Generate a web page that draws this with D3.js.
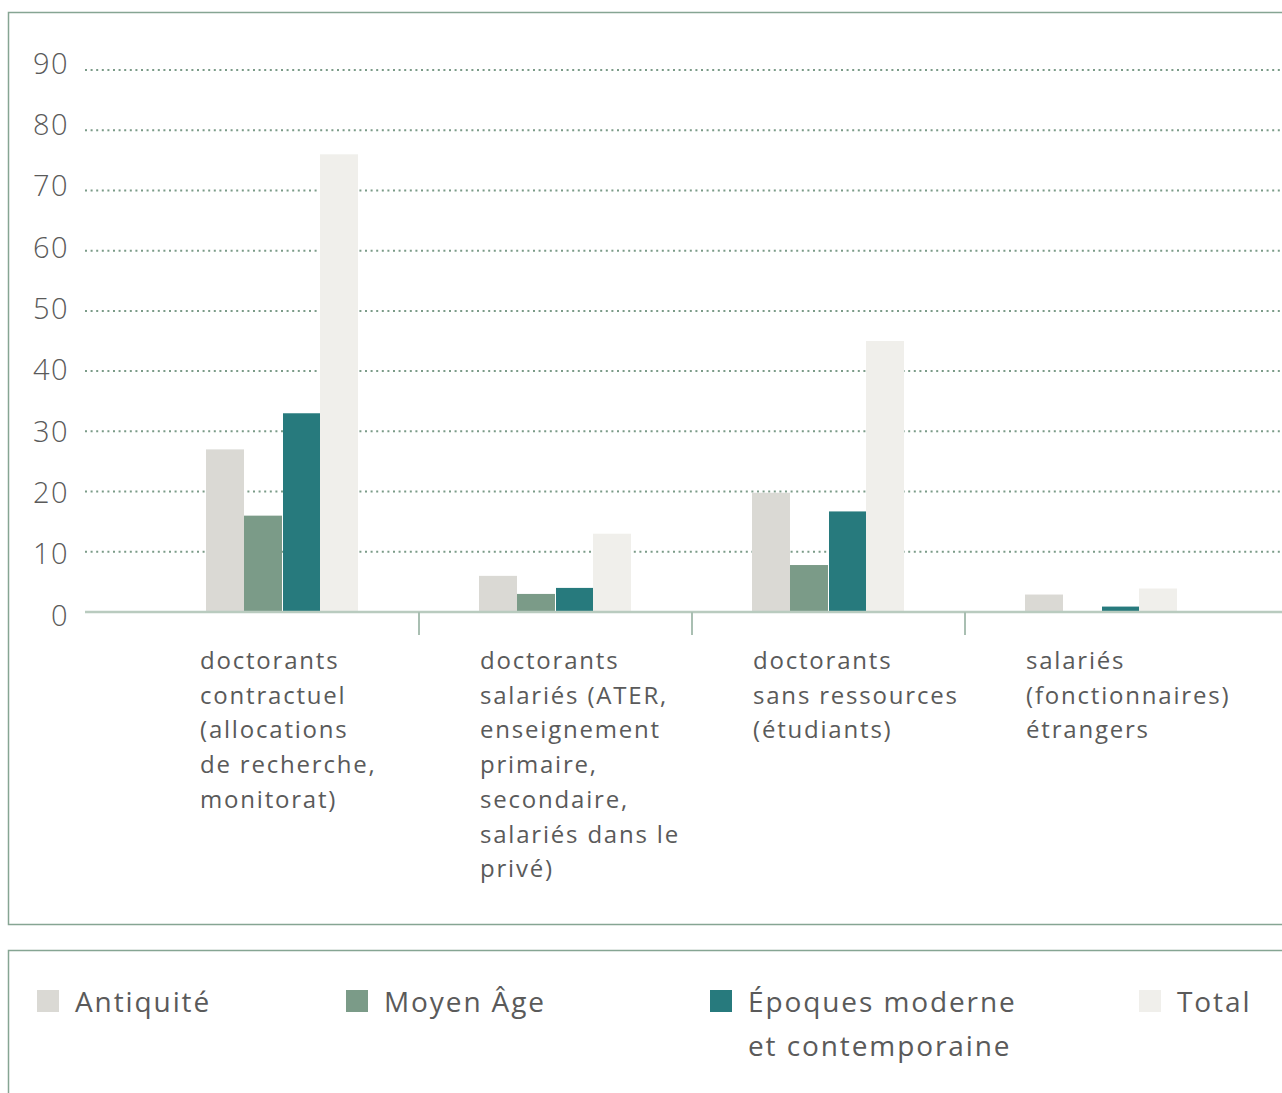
<!DOCTYPE html>
<html><head><meta charset="utf-8">
<script src="https://cdn.jsdelivr.net/npm/d3@7"></script>
<style>
html,body{margin:0;padding:0;background:#fff;overflow:hidden}
svg{display:block}
text{font-family:"Open Sans",sans-serif;fill:#5a5a5a}
</style></head><body>
<svg id="chart" width="1282" height="1093"></svg>
<script>
const categories = ["c1","c2","c3","c4"];
const categoryLabels = [
  ["doctorants","contractuel","(allocations","de recherche,","monitorat)"],
  ["doctorants","salariés (ATER,","enseignement","primaire,","secondaire,","salariés dans le","privé)"],
  ["doctorants","sans ressources","(étudiants)"],
  ["salariés","(fonctionnaires)","étrangers"]
];
const seriesNames = ["Antiquité","Moyen Âge","Époques moderne et contemporaine","Total"];
const legendLabels = [["Antiquité"],["Moyen Âge"],["Époques moderne","et contemporaine"],["Total"]];
const antiquite = [27, 6, 19.8, 2.9];
const moyenAge = [16, 3, 7.8, 0];
const epoques = [33, 4, 16.7, 0.9];
const total = [76, 13, 45, 3.9];
const yTicks = [0,10,20,30,40,50,60,70,80,90];
const colors = ["#dad9d4","#7b9b88","#277a7d","#f0efeb"];

const series = [antiquite, moyenAge, epoques, total];
const svg = d3.select("#chart");

// frames
svg.append("rect").attr("x",8.5).attr("y",12.5).attr("width",1300).attr("height",912)
  .attr("fill","none").attr("stroke","#86a593").attr("stroke-width",1.5);
svg.append("rect").attr("x",8.5).attr("y",950.5).attr("width",1300).attr("height",200)
  .attr("fill","none").attr("stroke","#86a593").attr("stroke-width",1.5);

const y = d3.scaleLinear().domain([0,90]).range([612,70]);
// tick labels are spaced slightly wider than the gridlines in the original
const yLab = d3.scaleLinear().domain([0,90]).range([625.5,73.5]);
const x = d3.scaleBand().domain(categories).range([146,1238]).paddingInner(0).paddingOuter(0);
const xi = d3.scaleBand().domain(d3.range(4)).range([60,212]).paddingInner(0);

// gridlines
svg.append("g").selectAll("line").data(yTicks.filter(d=>d>0)).join("line")
  .attr("x1",85).attr("x2",1282).attr("y1",d=>y(d)).attr("y2",d=>y(d))
  .attr("stroke","#7b9b88").attr("stroke-width",2).attr("stroke-dasharray","2,3.6");

// y tick labels
svg.append("g").selectAll("text").data(yTicks).join("text")
  .attr("x",69).attr("y",d=>yLab(d)).attr("text-anchor","end")
  .attr("font-size",29).attr("fill","#666").style("font-weight",300)
  .style("letter-spacing","1.5px")
  .text(d=>d);

// bars
const g = svg.append("g").selectAll("g").data(categories).join("g")
  .attr("transform",d=>`translate(${x(d)},0)`);
g.selectAll("rect").data((c,i)=>series.map((s,k)=>({k,v:s[i]}))).join("rect")
  .attr("x",d=>xi(d.k)+(d.k===2?1:0)).attr("width",d=>xi.bandwidth()-(d.k===2?1:0))
  .attr("y",d=>y(d.v)).attr("height",d=>y(0)-y(d.v)+1)
  .attr("fill",d=>colors[d.k]);

// baseline
svg.append("line").attr("x1",85).attr("x2",1282).attr("y1",612).attr("y2",612)
  .attr("stroke","#b9cbbf").attr("stroke-width",2.5);
// separators
svg.append("g").selectAll("line").data(categories.slice(1)).join("line")
  .attr("x1",d=>x(d)).attr("x2",d=>x(d)).attr("y1",612).attr("y2",635)
  .attr("stroke","#a9bfb2").attr("stroke-width",2);

// category labels
categories.forEach((c,i)=>{
  const lx = x(c) + (i===0 ? 54 : 61);
  const t = svg.append("text").attr("x",lx).attr("y",669).attr("font-size",24)
    .style("letter-spacing","1.8px");
  categoryLabels[i].forEach((l,j)=>{
    t.append("tspan").attr("x",lx).attr("dy",j===0?0:34.7).text(l);
  });
});

// legend
const legX = [37,346,710,1139];
legendLabels.forEach((lab,i)=>{
  svg.append("rect").attr("x",legX[i]).attr("y",990).attr("width",22).attr("height",22).attr("fill",colors[i]);
  const t = svg.append("text").attr("x",legX[i]+39).attr("y",1012).attr("font-size",28)
    .style("letter-spacing","1.9px");
  lab.forEach((l,j)=>t.append("tspan").attr("x",legX[i]+38).attr("dy",j===0?0:44).text(l));
});
</script>
</body></html>
